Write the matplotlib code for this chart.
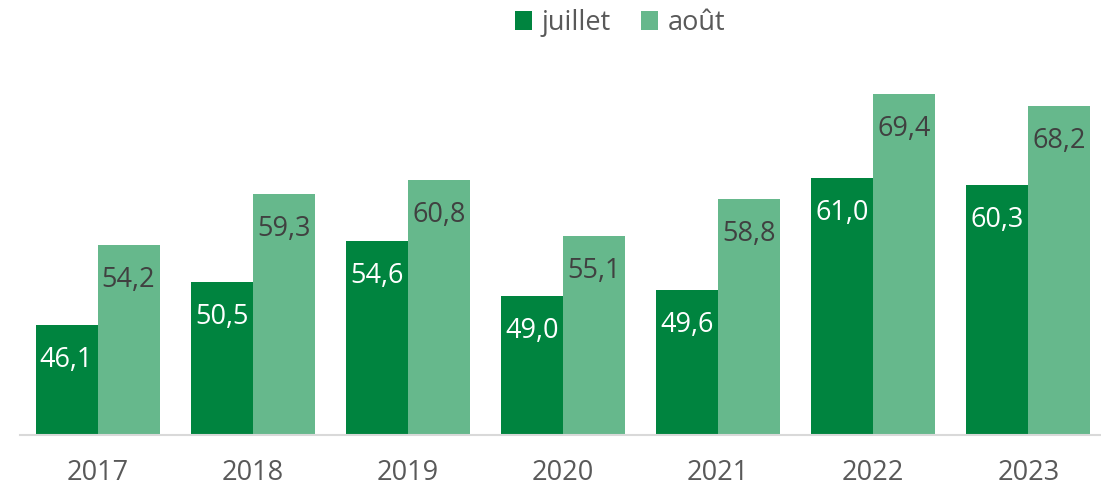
import matplotlib
matplotlib.use("Agg")
import matplotlib.pyplot as plt
import numpy as np

years = ["2017", "2018", "2019", "2020", "2021", "2022", "2023"]
juillet = [46.1, 50.5, 54.6, 49.0, 49.6, 61.0, 60.3]
aout = [54.2, 59.3, 60.8, 55.1, 58.8, 69.4, 68.2]

c_dark = "#00843F"
c_light = "#66B88C"

plt.rcParams['font.family'] = ['Open Sans', 'DejaVu Sans']

W, H = 1101, 491
fig = plt.figure(figsize=(W/100, H/100), dpi=100)
left, right = 20, 1106
bottom, top = 491-435, 491-39
ax = fig.add_axes([left/W, bottom/H, (right-left)/W, (top-bottom)/H])

x = np.arange(len(years))
bw = 0.4
b1 = ax.bar(x - bw/2, juillet, bw, color=c_dark, label="juillet")
b2 = ax.bar(x + bw/2, aout, bw, color=c_light, label="août")
ax.set_ylim(35, 75)
ax.set_xlim(-0.5, len(years)-0.5)

def fmt(v):
    return f"{v:.1f}".replace(".", ",")

for xi, v in zip(x, juillet):
    ax.annotate(fmt(v), (xi - bw/2, v), xytext=(0, -35), textcoords="offset pixels",
                ha="center", va="center", color="white", fontsize=19.5)
for xi, v in zip(x, aout):
    ax.annotate(fmt(v), (xi + bw/2, v), xytext=(0, -35), textcoords="offset pixels",
                ha="center", va="center", color="#404040", fontsize=19.5)

for s in ["top", "right", "left"]:
    ax.spines[s].set_visible(False)
ax.spines["bottom"].set_color("#D9D9D9")
ax.spines["bottom"].set_linewidth(1.5)
ax.set_yticks([])
ax.set_xticks(x)
ax.set_xticklabels(years, fontsize=19.5, color="#595959")
ax.tick_params(axis="x", length=0, pad=17)

fig.legend(handles=[b1, b2], labels=["juillet", "août"], loc="center",
           bbox_to_anchor=(620/W, 1 - 23/H), ncol=2, frameon=False,
           fontsize=19.5, labelcolor="#595959", handlelength=0.65, handleheight=0.65,
           handletextpad=0.35, columnspacing=1.1)

fig.savefig("out.png", dpi=100)
